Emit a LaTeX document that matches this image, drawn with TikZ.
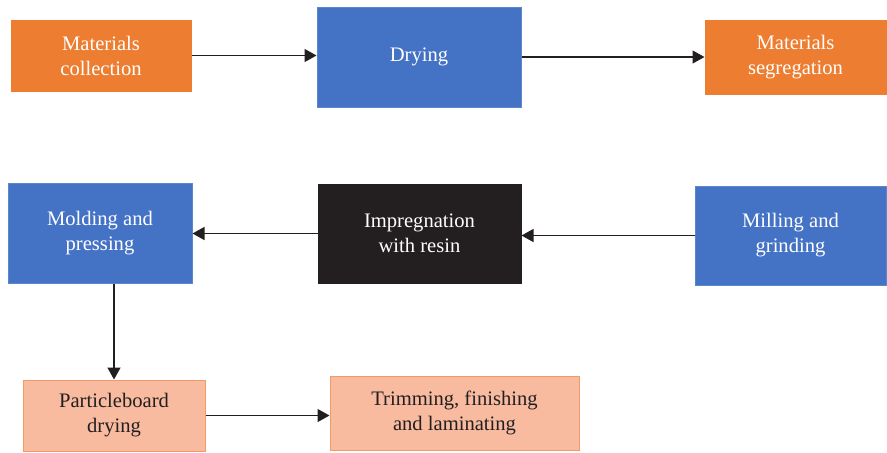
\documentclass[tikz,border=0pt]{standalone}
\usepackage{fontspec}
\setmainfont{Liberation Serif}
\usetikzlibrary{arrows.meta}

\definecolor{boxorange}{HTML}{ED7D31}
\definecolor{boxblue}{HTML}{4472C4}
\definecolor{boxblack}{HTML}{231F20}
\definecolor{boxpale}{HTML}{F8BBA0}
\definecolor{paleline}{HTML}{F29B62}
\definecolor{blueline}{HTML}{5B86CC}

\begin{document}
\begin{tikzpicture}[x=0.5pt, y=-0.5pt,
  box/.style={rectangle, inner sep=0pt, align=center, line width=0.5pt,
    font=\fontsize{10.3}{12.5}\selectfont},
  orangebox/.style={box, fill=boxorange, draw=boxorange, text=white},
  bluebox/.style={box, fill=boxblue, draw=blueline, text=white},
  blackbox/.style={box, fill=boxblack, draw=boxblack, text=white},
  palebox/.style={box, fill=boxpale, draw=paleline, text=boxblack},
  flow/.style={draw=boxblack, line width=0.65pt,
    -{Triangle[length=6pt, width=6.5pt]}}]
  \useasboundingbox (0,0) rectangle (887,452);

  % Erste Reihe
  \node[orangebox, minimum width=90pt, minimum height=35.5pt] (coll) at (101,55.5)
    {Materials\\collection};
  \node[bluebox, minimum width=102pt, minimum height=50pt] (dry) at (419,57)
    {Drying};
  \node[orangebox, minimum width=90.5pt, minimum height=37pt] (segr) at (795.5,57)
    {Materials\\segregation};
  % Zweite Reihe
  \node[bluebox, minimum width=92pt, minimum height=50pt] (mold) at (100,233)
    {Molding and\\pressing};
  \node[blackbox, minimum width=101.5pt, minimum height=49.5pt] (impr) at (419.5,233.5)
    {Impregnation\\with resin};
  \node[bluebox, minimum width=95.5pt, minimum height=49.5pt] (mill) at (790.5,235.5)
    {Milling and\\grinding};
  % Dritte Reihe
  \node[palebox, minimum width=91pt, minimum height=35.5pt] (pbd) at (114,415.5)
    {Particleboard\\drying};
  \node[palebox, minimum width=124.5pt, minimum height=37pt] (trim) at (454.5,413)
    {Trimming, finishing\\and laminating};

  \draw[flow] (coll) -- (coll -| dry.west);
  \draw[flow] (dry) -- (dry -| segr.west);
  \draw[flow] (mill) -- (mill -| impr.east);
  \draw[flow] (impr) -- (impr -| mold.east);
  \draw[flow] (mold.south -| pbd) -- (pbd.north);
  \draw[flow] (pbd) -- (pbd -| trim.west);
\end{tikzpicture}
\end{document}
